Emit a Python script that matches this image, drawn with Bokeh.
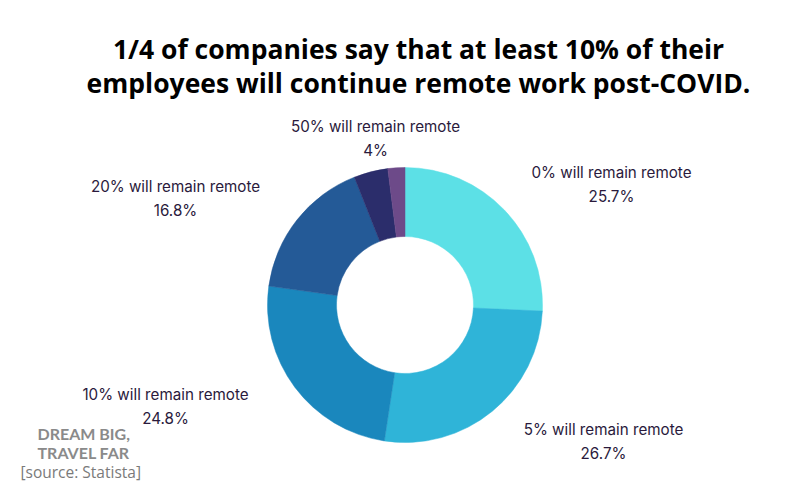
import math
from bokeh.plotting import figure
from bokeh.models import ColumnDataSource, Range1d, Label
from bokeh.embed import file_html
from bokeh.resources import INLINE

# Data
categories = ["0% will remain remote", "5% will remain remote", "10% will remain remote",
              "20% will remain remote", "50% will remain remote", "other"]
shares = [25.7, 26.7, 24.8, 16.8, 4.0, 2.0]
share_labels = ["25.7%", "26.7%", "24.8%", "16.8%", "4%", ""]
colors = ["#5ce0e6", "#2fb4d8", "#1a87bd", "#245a97", "#2b2d6b", "#6d4a89"]

W, H = 800, 500
p = figure(width=W, height=H, output_backend="svg", toolbar_location=None,
           x_range=Range1d(0, W), y_range=Range1d(0, H), min_border=0)
p.axis.visible = False
p.grid.visible = False
p.outline_line_color = None
p.background_fill_color = "white"
p.border_fill_color = "white"

total = sum(shares)
starts, ends = [], []
cum = 0.0
for s in shares:
    a0 = math.pi / 2 - 2 * math.pi * cum / total
    cum += s
    a1 = math.pi / 2 - 2 * math.pi * cum / total
    starts.append(a1)
    ends.append(a0)

cx, cy = 404.5, H - 304.5
src = ColumnDataSource(dict(start=starts, end=ends, color=colors, cat=categories))
p.annular_wedge(x=cx, y=cy, inner_radius=68.5, outer_radius=137.5,
                start_angle="start", end_angle="end", direction="anticlock",
                fill_color="color", line_color="color", line_width=0.5, source=src)

# Title
for txt, y in [("1/4 of companies say that at least 10% of their", 48),
               ("employees will continue remote work post-COVID.", 82)]:
    p.add_layout(Label(x=418, y=H - y, text=txt, text_align="center", text_baseline="middle",
                       text_font="Open Sans", text_font_style="bold", text_font_size="26.5px",
                       text_color="#000000"))

# Slice labels (label position per slice)
label_pos = [(611, 172), (603, 429), (165, 394), (175, 186), (375, 126), None]
for cat, sl, pos in zip(categories, share_labels, label_pos):
    if pos is None:
        continue
    x, y = pos
    p.add_layout(Label(x=x, y=H - y, text=cat, text_align="center", text_baseline="middle",
                       text_font="Inter", text_font_size="15.2px", text_color="#2a1a3c"))
    p.add_layout(Label(x=x, y=H - y - 24, text=sl, text_align="center", text_baseline="middle",
                       text_font="Inter", text_font_size="15.2px", text_color="#2a1a3c"))

# Watermark and source
p.add_layout(Label(x=37, y=H - 433, text="DREAM BIG,", text_align="left", text_baseline="middle",
                   text_font="Lato", text_font_style="bold", text_font_size="16px", text_color="#8a8a8a"))
p.add_layout(Label(x=37, y=H - 452, text="TRAVEL FAR", text_align="left", text_baseline="middle",
                   text_font="Lato", text_font_style="bold", text_font_size="16px", text_color="#8a8a8a"))
p.add_layout(Label(x=20, y=H - 471, text="[source: Statista]", text_align="left", text_baseline="middle",
                   text_font="Open Sans", text_font_size="15.5px", text_color="#7a7a7a"))

open("out.html", "w").write(file_html(p, INLINE))
